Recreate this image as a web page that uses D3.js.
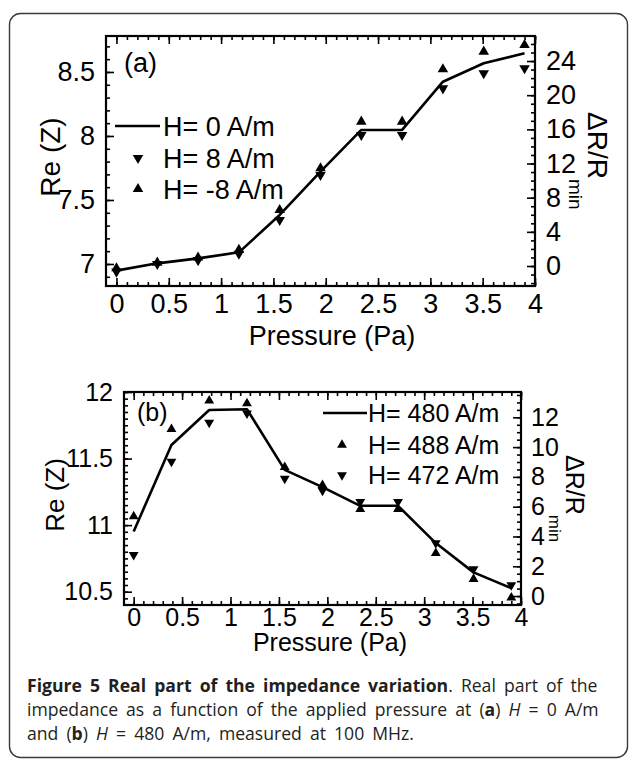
<!DOCTYPE html>
<html>
<head>
<meta charset="utf-8">
<script src="https://cdn.jsdelivr.net/npm/d3@7"></script>
<style>
  html, body { margin: 0; padding: 0; background: #fff; }
  svg { display: block; }
  .ax text { font-family: "Liberation Sans", Arial, sans-serif; fill: #000; }
  .ax path, .ax line { stroke: #000; }
</style>
</head>
<body>
<svg id="chart" width="629" height="759"></svg>
<script>
// ---------------- data ----------------
const pressure = [0, 0.39, 0.78, 1.17, 1.56, 1.95, 2.34, 2.73, 3.12, 3.51, 3.9];

// panel (a)
const reA_H0   = [6.948, 7.005, 7.044, 7.091, 7.383, 7.721, 8.047, 8.047, 8.424, 8.568, 8.646];
const reA_H8   = [6.940, 7.000, 7.030, 7.080, 7.344, 7.695, 8.008, 8.008, 8.372, 8.490, 8.529];
const reA_Hm8  = [6.966, 7.010, 7.050, 7.110, 7.422, 7.748, 8.112, 8.112, 8.521, 8.659, 8.711];

// panel (b)
const reB_H480 = [10.952, 11.602, 11.865, 11.870, 11.415, 11.285, 11.145, 11.145, 10.865, 10.645, 10.527];
const reB_H488 = [11.065, 11.720, 11.935, 11.915, 11.435, 11.300, 11.120, 11.120, 10.790, 10.595, 10.455];
const reB_H472 = [10.777, 11.477, 11.770, 11.840, 11.350, 11.260, 11.175, 11.175, 10.865, 10.670, 10.550];

// ticks
const xTicks   = [0, 0.5, 1, 1.5, 2, 2.5, 3, 3.5, 4];
const xTickLabels = ["0", "0.5", "1", "1.5", "2", "2.5", "3", "3.5", "4"];
const yTicksA  = [7, 7.5, 8, 8.5];
const yTickLabelsA = ["7", "7.5", "8", "8.5"];
const rTicksA  = [0, 4, 8, 12, 16, 20, 24];
const yTicksB  = [10.5, 11, 11.5, 12];
const yTickLabelsB = ["10.5", "11", "11.5", "12"];
const rTicksB  = [0, 2, 4, 6, 8, 10, 12];

const legendA = ["H= 0 A/m", "H= 8 A/m", "H= -8 A/m"];
const legendB = ["H= 480 A/m", "H= 488 A/m", "H= 472 A/m"];

// ---------------- drawing ----------------
const svg = d3.select("#chart");

// outer rounded frame
svg.append("rect")
  .attr("x", 9.5).attr("y", 13.5)
  .attr("width", 618).attr("height", 744)
  .attr("rx", 11).attr("ry", 11)
  .attr("fill", "none").attr("stroke", "#3a3a3a").attr("stroke-width", 1.4);

function panel(cfg) {
  const g = svg.append("g");
  const x = d3.scaleLinear().domain(cfg.xDomain).range([cfg.left, cfg.right]);
  const y = d3.scaleLinear().domain(cfg.yDomain).range([cfg.bottom, cfg.top]);
  const r = d3.scaleLinear().domain(cfg.rDomain).range([cfg.bottom, cfg.top]);
  const fs = cfg.fs;

  const xMinor = d3.range(0, 4.0001, 0.1).map(v => +v.toFixed(2));
  const yMinor = d3.range(cfg.yMinorStart, cfg.yDomain[1], cfg.yMinorStep).map(v => +v.toFixed(3));
  const rMinor = d3.range(cfg.rMinorStart, cfg.rDomain[1], cfg.rMinorStep).map(v => +v.toFixed(3));

  const addAxis = (axis, transform) => {
    const a = g.append("g").attr("class", "ax").attr("transform", transform).call(axis);
    a.select(".domain").remove();
    a.selectAll("line").attr("stroke-width", 1.6);
    a.selectAll("text").style("font-size", fs + "px");
    return a;
  };

  // minor ticks
  addAxis(d3.axisBottom(x).tickValues(xMinor).tickSize(-4).tickFormat(""), `translate(0,${cfg.bottom})`);
  addAxis(d3.axisTop(x).tickValues(xMinor).tickSize(-4).tickFormat(""), `translate(0,${cfg.top})`);
  addAxis(d3.axisLeft(y).tickValues(yMinor).tickSize(-4).tickFormat(""), `translate(${cfg.left},0)`);
  addAxis(d3.axisRight(r).tickValues(rMinor).tickSize(-4).tickFormat(""), `translate(${cfg.right},0)`);

  // major ticks + labels
  addAxis(d3.axisBottom(x).tickValues(xTicks).tickSize(-8).tickPadding(cfg.xPad)
    .tickFormat((d, i) => xTickLabels[i]), `translate(0,${cfg.bottom})`);
  addAxis(d3.axisTop(x).tickValues(xTicks).tickSize(-8).tickFormat(""), `translate(0,${cfg.top})`);
  addAxis(d3.axisLeft(y).tickValues(cfg.yTicks).tickSize(-8).tickPadding(cfg.yPad)
    .tickFormat((d, i) => cfg.yTickLabels[i]), `translate(${cfg.left},0)`);
  addAxis(d3.axisRight(r).tickValues(cfg.rTicks).tickSize(-8).tickPadding(cfg.rPad)
    .tickFormat(d3.format("d")), `translate(${cfg.right},0)`);

  // frame
  g.append("rect")
    .attr("x", cfg.left).attr("y", cfg.top)
    .attr("width", cfg.right - cfg.left).attr("height", cfg.bottom - cfg.top)
    .attr("fill", "none").attr("stroke", "#000").attr("stroke-width", 2.2);

  // line
  const line = d3.line().x((d, i) => x(pressure[i])).y(d => y(d));
  g.append("path").datum(cfg.lineData)
    .attr("d", line).attr("fill", "none").attr("stroke", "#000")
    .attr("stroke-width", 2.6).attr("stroke-linejoin", "round");

  const tri = d3.symbol(d3.symbolTriangle, cfg.symSize);
  const drawTri = (data, down) => {
    g.append("g").selectAll("path").data(data).join("path")
      .attr("d", tri)
      .attr("transform", (d, i) => `translate(${x(pressure[i])},${y(d)})${down ? " rotate(180)" : ""}`)
      .attr("fill", "#000");
  };
  drawTri(cfg.upData, false);
  drawTri(cfg.downData, true);

  // axis titles
  const font = "Liberation Sans, Arial, sans-serif";
  g.append("text")
    .attr("x", cfg.xTitle[0]).attr("y", cfg.xTitle[1])
    .attr("text-anchor", "middle")
    .style("font-family", font).style("font-size", fs + "px")
    .text("Pressure (Pa)");

  g.append("text")
    .attr("transform", `translate(${cfg.yTitle[0]},${cfg.yTitle[1]}) rotate(-90)`)
    .attr("text-anchor", "middle")
    .style("font-family", font).style("font-size", cfg.titleFs + "px")
    .text("Re (Z)");

  const rt = g.append("text")
    .attr("transform", `translate(${cfg.rTitle[0]},${cfg.rTitle[1]}) rotate(90)`)
    .attr("text-anchor", "start")
    .style("font-family", font).style("font-size", cfg.rTitleFs + "px");
  rt.append("tspan").text("\u0394R/R");
  rt.append("tspan").attr("dy", cfg.subDy).style("font-size", cfg.subFs + "px").text("min");

  // panel tag
  g.append("text")
    .attr("x", cfg.tag[0]).attr("y", cfg.tag[1])
    .style("font-family", font).style("font-size", fs + "px")
    .text(cfg.tagText);

  // legend
  const lg = g.append("g");
  cfg.legend.forEach((lab, i) => {
    const ly = cfg.legY[i];
    if (i === 0) {
      lg.append("line")
        .attr("x1", cfg.legLine[0]).attr("x2", cfg.legLine[1])
        .attr("y1", ly).attr("y2", ly)
        .attr("stroke", "#000").attr("stroke-width", 2.4);
    } else {
      const down = cfg.legDown[i];
      lg.append("path").attr("d", tri)
        .attr("transform", `translate(${cfg.legSym},${ly})${down ? " rotate(180)" : ""}`)
        .attr("fill", "#000");
    }
    lg.append("text")
      .attr("x", cfg.legText).attr("y", ly)
      .attr("dy", "0.36em")
      .style("font-family", font).style("font-size", fs + "px")
      .text(lab);
  });
}

panel({
  left: 106, right: 535, top: 36, bottom: 286,
  xDomain: [-0.1, 4], yDomain: [6.828, 8.781], rDomain: [-2.34, 26.93],
  yTicks: yTicksA, yTickLabels: yTickLabelsA, rTicks: rTicksA,
  yMinorStart: 6.9, yMinorStep: 0.1, rMinorStart: -2, rMinorStep: 1,
  fs: 27, titleFs: 28, rTitleFs: 28, subFs: 19, subDy: 19,
  xPad: 8, yPad: 11, rPad: 11,
  lineData: reA_H0, upData: reA_Hm8, downData: reA_H8, symSize: 48,
  xTitle: [332, 345], yTitle: [60, 157], rTitle: [588, 112],
  tag: [124, 72], tagText: "(a)",
  legend: legendA, legY: [126, 158, 189], legLine: [115, 160], legSym: 138, legText: 163,
  legDown: [false, true, false]
});

panel({
  left: 124, right: 521, top: 392, bottom: 605,
  xDomain: [-0.1, 4], yDomain: [10.40, 12.0], rDomain: [-0.6, 13.7],
  yTicks: yTicksB, yTickLabels: yTickLabelsB, rTicks: rTicksB,
  yMinorStart: 10.45, yMinorStep: 0.05, rMinorStart: -0.5, rMinorStep: 0.5,
  fs: 25, titleFs: 26, rTitleFs: 25, subFs: 17, subDy: 17,
  xPad: 3, yPad: 11, rPad: 10,
  lineData: reB_H480, upData: reB_H488, downData: reB_H472, symSize: 42,
  xTitle: [330, 651], yTitle: [64, 495], rTitle: [566, 455],
  tag: [137, 421], tagText: "(b)",
  legend: legendB, legY: [413, 445, 475], legLine: [323, 367], legSym: 342, legText: 368,
  legDown: [false, false, true]
});

// ---------------- caption ----------------
const capFont = "'Open Sans', 'Noto Sans', sans-serif";
const cap = svg.append("g").style("font-family", capFont).style("fill", "#231f20");
const lines = [
  [{t: "Figure 5 Real part of the impedance variation", b: true}, {t: ". Real part of the"}],
  [{t: "impedance as a function of the applied pressure at ("}, {t: "a", b: true}, {t: ") "}, {t: "H", i: true}, {t: " = 0 A/m"}],
  [{t: "and ("}, {t: "b", b: true}, {t: ") "}, {t: "H", i: true}, {t: " = 480 A/m, measured at 100 MHz."}]
];
const capY = [692, 716, 740];
const capFs = 17.6;
const texts = lines.map((parts, li) => {
  const t = cap.append("text").attr("x", 27).attr("y", capY[li]).style("font-size", capFs + "px")
    .attr("xml:space", "preserve").style("white-space", "pre");
  parts.forEach(p => {
    t.append("tspan").text(p.t)
      .style("font-weight", p.b ? "700" : "400")
      .style("font-style", p.i ? "italic" : "normal");
  });
  return t;
});
// widen word spacing slightly so the first line spans about the measured width
const w0 = texts[0].node().getComputedTextLength();
const nSpaces = (texts[0].text().match(/ /g) || []).length;
const ws = Math.max(0, Math.min(3.5, (592 - w0) / nSpaces));
texts.forEach(t => t.style("word-spacing", ws + "px"));
</script>
</body>
</html>
